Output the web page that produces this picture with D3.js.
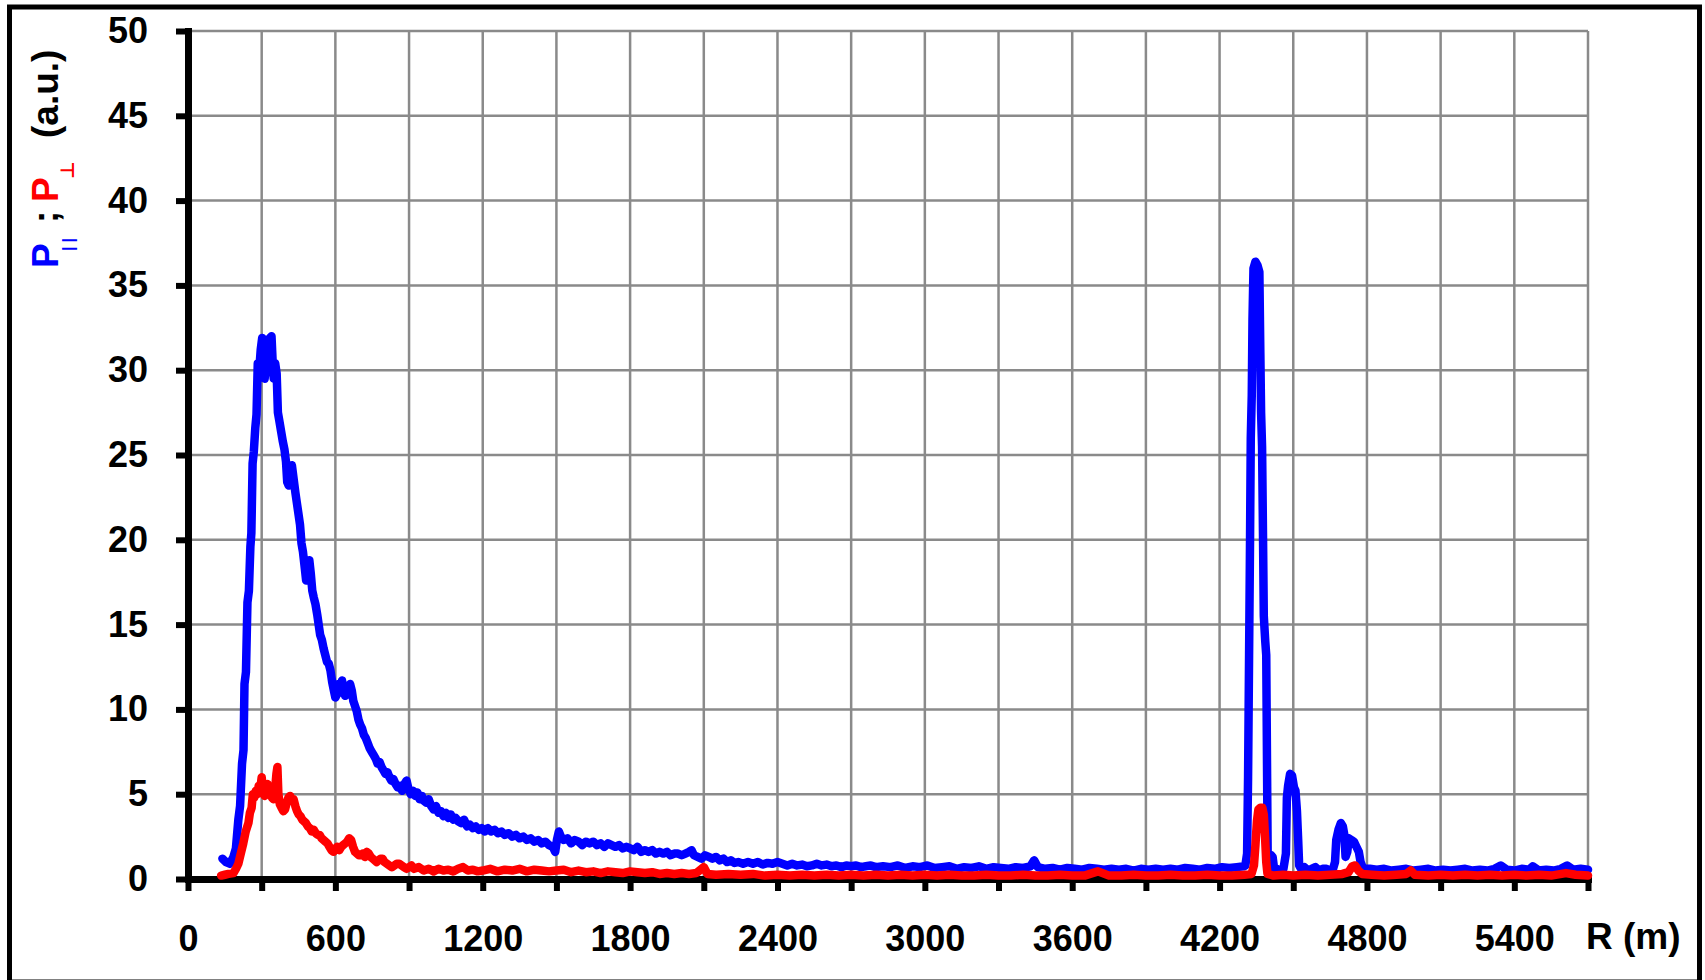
<!DOCTYPE html>
<html>
<head>
<meta charset="utf-8">
<script src="https://cdn.jsdelivr.net/npm/d3@7"></script>
<style>
  html, body { margin: 0; padding: 0; background: #fff; }
  svg { display: block; }
  text { font-family: "Liberation Sans", Arial, sans-serif; font-weight: bold; }
</style>
</head>
<body>
<svg id="chart" width="1705" height="980"></svg>
<script>
// Range axis ticks (m) and power axis ticks (a.u.)
const rangeTicks = d3.range(0, 5701, 300);
const rangeLabels = d3.range(0, 5401, 600);
const powerTicks = d3.range(0, 51, 5);

// Co-polarised return P∥ : range (m) and power (a.u.)
const rPar = [140,155,170,185,195,205,212,220,226,230,236,242,248,254,258,263,268,274,279,284,290,296,302,307,312,318,322,328,333,340,345,349,355,361,366,372,379,386,393,399,404,410,416,423,430,437,443,449,456,462,468,475,481,488,494,500,506,512,519,526,532,538,545,552,559,566,573,580,587,594,600,607,613,620,627,633,640,647,653,660,667,673,680,687,694,701,708,716,724,732,740,748,756,764,772,780,788,796,804,812,820,828,836,845,854,863,872,881,890,898,907,916,925,934,943,952,961,970,980,990,1000,1010,1020,1030,1040,1050,1060,1070,1080,1090,1100,1112,1124,1136,1148,1160,1172,1184,1196,1208,1220,1234,1248,1262,1276,1290,1305,1320,1335,1350,1365,1380,1395,1410,1425,1440,1455,1470,1485,1495,1502,1510,1518,1530,1545,1560,1575,1590,1605,1620,1635,1650,1665,1680,1695,1710,1725,1740,1755,1770,1785,1800,1815,1830,1845,1860,1875,1890,1905,1920,1935,1950,1965,1980,1995,2010,2025,2040,2050,2060,2075,2090,2105,2120,2135,2150,2165,2180,2195,2210,2225,2240,2260,2280,2300,2320,2340,2360,2380,2400,2420,2440,2460,2480,2500,2520,2540,2560,2580,2600,2620,2640,2660,2680,2700,2720,2740,2760,2780,2800,2830,2860,2890,2920,2950,2980,3010,3040,3070,3100,3130,3160,3190,3220,3250,3280,3310,3340,3370,3400,3430,3445,3460,3490,3520,3550,3580,3610,3640,3670,3700,3730,3760,3790,3820,3850,3880,3910,3940,3970,4000,4030,4060,4090,4120,4150,4180,4210,4240,4270,4300,4305,4312,4316,4320,4324,4327,4331,4334,4338,4346,4354,4362,4366,4369,4373,4377,4380,4386,4390,4393,4396,4402,4410,4416,4422,4432,4445,4460,4470,4474,4479,4487,4495,4503,4509,4515,4520,4524,4532,4545,4560,4575,4590,4605,4620,4635,4650,4662,4670,4675,4684,4694,4702,4708,4713,4720,4726,4737,4747,4757,4767,4774,4782,4797,4812,4840,4870,4900,4930,4960,4990,5020,5050,5080,5110,5140,5170,5200,5230,5260,5290,5320,5345,5370,5400,5430,5460,5475,5500,5530,5560,5590,5615,5640,5670,5700];
const pPar = [1.2,1.0,0.9,1.3,1.8,3.5,4.3,6.8,7.6,11.5,12.2,16.3,17.0,19.6,20.4,24.5,25.2,26.6,27.4,30.4,30.0,31.2,31.9,30.8,29.5,30.2,31.8,30.6,31.9,32.0,30.4,29.5,30.4,29.8,27.5,27.0,26.4,25.8,25.3,24.6,23.4,23.2,24.0,24.4,23.6,22.8,22.2,21.6,20.9,19.8,19.3,18.4,17.6,18.2,18.8,18.0,17.0,16.6,16.2,15.6,15.0,14.4,14.1,13.6,13.2,12.8,12.7,12.3,11.6,11.1,10.7,10.9,11.5,11.0,11.7,11.2,10.8,11.4,11.0,11.5,11.1,10.5,10.2,9.9,9.4,9.1,8.9,8.5,8.3,8.0,7.7,7.5,7.3,7.1,6.8,6.9,6.6,6.4,6.2,6.3,6.0,5.8,5.9,5.6,5.4,5.5,5.2,5.6,5.8,5.3,5.0,5.2,4.9,5.1,4.7,4.9,4.6,4.5,4.7,4.3,4.1,4.3,3.9,4.0,3.7,3.9,3.6,3.8,3.5,3.6,3.4,3.3,3.5,3.1,3.2,3.0,3.1,2.9,3.0,2.8,3.0,2.8,2.9,2.7,2.8,2.6,2.7,2.5,2.6,2.4,2.5,2.3,2.4,2.2,2.3,2.1,2.2,2.0,1.9,1.6,2.3,2.8,2.5,2.3,2.4,2.1,2.3,2.2,2.0,2.2,2.1,2.2,2.0,2.1,1.9,2.1,2.0,1.9,2.0,1.8,1.9,1.8,1.7,1.9,1.6,1.7,1.6,1.7,1.5,1.6,1.5,1.6,1.4,1.5,1.5,1.4,1.5,1.6,1.7,1.4,1.3,1.2,1.4,1.3,1.2,1.3,1.1,1.2,1.0,1.1,0.95,1.0,0.9,1.0,0.9,1.0,0.85,0.95,0.9,1.0,0.9,0.8,0.9,0.8,0.85,0.75,0.8,0.9,0.8,0.85,0.75,0.8,0.7,0.8,0.75,0.8,0.7,0.75,0.8,0.7,0.75,0.7,0.8,0.65,0.75,0.7,0.8,0.65,0.7,0.75,0.6,0.7,0.65,0.75,0.6,0.7,0.65,0.6,0.7,0.65,0.75,1.1,0.7,0.6,0.65,0.55,0.65,0.6,0.55,0.65,0.6,0.55,0.6,0.55,0.6,0.5,0.6,0.55,0.6,0.55,0.6,0.55,0.65,0.6,0.55,0.65,0.6,0.7,0.65,0.7,0.75,0.8,1.5,6.0,13.0,20.0,26.0,28.5,33.0,36.0,36.4,36.2,35.8,31.0,27.5,25.5,20.0,15.5,14.0,13.2,7.0,1.0,0.9,1.4,1.3,0.6,0.6,0.5,0.6,1.5,4.8,5.5,6.2,6.1,5.4,5.2,4.0,2.3,0.8,0.6,0.7,0.5,0.6,0.7,0.5,0.6,0.6,0.5,0.6,1.0,2.3,2.9,3.3,3.1,2.6,1.3,1.6,2.4,2.3,2.2,1.9,1.6,1.0,0.7,0.6,0.6,0.55,0.6,0.5,0.55,0.6,0.5,0.55,0.6,0.5,0.55,0.5,0.55,0.6,0.5,0.55,0.5,0.6,0.8,0.55,0.5,0.6,0.55,0.75,0.5,0.55,0.5,0.6,0.8,0.55,0.6,0.55];

// Cross-polarised return P⊥ : range (m) and power (a.u.)
const rPerp = [135,150,165,185,195,205,215,225,235,246,252,259,264,270,276,282,288,294,300,306,312,318,324,330,336,342,348,354,360,364,368,374,381,388,395,402,409,416,423,430,437,444,451,458,465,472,480,488,496,504,512,520,528,536,544,552,560,568,576,584,592,600,608,616,624,632,640,648,656,664,672,680,688,696,704,712,720,728,736,744,752,760,768,776,784,792,800,810,820,830,840,850,860,870,880,890,900,910,920,940,960,980,1000,1020,1040,1060,1080,1100,1120,1140,1160,1180,1200,1230,1260,1290,1320,1350,1380,1410,1440,1470,1500,1530,1560,1590,1620,1650,1680,1710,1740,1770,1800,1830,1860,1890,1920,1950,1980,2010,2040,2070,2100,2115,2150,2200,2250,2300,2350,2400,2450,2500,2550,2600,2650,2700,2750,2800,2850,2900,2950,3000,3050,3100,3150,3200,3250,3300,3350,3400,3450,3500,3550,3600,3650,3705,3750,3800,3850,3900,3950,4000,4050,4100,4150,4200,4250,4300,4330,4340,4346,4352,4358,4366,4374,4380,4385,4390,4395,4420,4460,4500,4550,4600,4650,4700,4725,4740,4752,4765,4780,4820,4870,4920,4960,4978,4995,5050,5100,5150,5200,5250,5300,5350,5400,5450,5500,5550,5610,5650,5700];
const pPerp = [0.2,0.25,0.3,0.35,0.6,0.9,1.5,2.1,2.8,3.3,3.9,4.2,5.0,4.8,5.2,5.0,5.5,5.3,6.0,5.2,4.9,5.3,5.6,5.0,5.2,4.8,4.7,5.2,6.2,6.6,5.0,4.4,4.2,4.0,4.1,4.5,4.8,4.9,4.6,4.7,4.3,4.0,3.8,3.7,3.5,3.4,3.3,3.1,3.0,2.8,2.9,2.7,2.6,2.6,2.4,2.3,2.2,2.1,1.9,1.7,1.6,1.8,1.9,1.7,1.9,2.0,2.1,2.2,2.4,2.3,1.9,1.6,1.5,1.4,1.4,1.5,1.3,1.6,1.5,1.3,1.2,1.1,1.0,1.1,1.2,1.2,1.0,0.9,0.8,0.7,0.8,0.9,0.9,0.8,0.7,0.6,0.7,0.8,0.6,0.7,0.5,0.6,0.45,0.6,0.5,0.55,0.45,0.6,0.7,0.5,0.55,0.45,0.5,0.6,0.45,0.55,0.5,0.6,0.45,0.55,0.5,0.45,0.5,0.55,0.4,0.5,0.4,0.45,0.35,0.45,0.4,0.35,0.45,0.4,0.35,0.4,0.3,0.35,0.3,0.35,0.3,0.35,0.7,0.3,0.25,0.3,0.25,0.3,0.2,0.25,0.2,0.25,0.2,0.25,0.2,0.25,0.2,0.25,0.2,0.25,0.2,0.25,0.2,0.25,0.2,0.2,0.25,0.2,0.2,0.25,0.2,0.2,0.25,0.2,0.2,0.45,0.2,0.2,0.25,0.2,0.2,0.25,0.2,0.2,0.25,0.2,0.2,0.25,0.3,0.8,2.0,3.4,4.1,4.2,4.2,3.8,2.5,1.0,0.3,0.2,0.25,0.2,0.25,0.2,0.25,0.3,0.4,0.75,0.8,0.5,0.3,0.25,0.2,0.25,0.3,0.5,0.25,0.2,0.25,0.2,0.25,0.2,0.25,0.2,0.25,0.2,0.25,0.2,0.35,0.25,0.2];

const svg = d3.select("#chart");
svg.append("rect").attr("width", 1705).attr("height", 980).attr("fill", "#fff");

// Outer frame of the figure
svg.append("rect")
  .attr("x", 9.5).attr("y", 7).attr("width", 1690).attr("height", 975)
  .attr("fill", "none").attr("stroke", "#000").attr("stroke-width", 5);

const x = d3.scaleLinear().domain([0, 5700]).range([188, 1588]);
const y = d3.scaleLinear().domain([0, 50]).range([879, 31]);

// Grid
const grid = svg.append("g");
grid.selectAll("line.v").data(rangeTicks.filter(d => d > 0)).join("line")
  .attr("x1", d => x(d)).attr("x2", d => x(d))
  .attr("y1", y(0)).attr("y2", y(50))
  .attr("stroke", "#8a8a8a").attr("stroke-width", 2.5);
grid.selectAll("line.h").data(powerTicks.filter(d => d > 0)).join("line")
  .attr("x1", x(0)).attr("x2", x(5700))
  .attr("y1", d => y(d)).attr("y2", d => y(d))
  .attr("stroke", "#8a8a8a").attr("stroke-width", 2.5);

// Axes
const yAxis = d3.axisLeft(y).tickValues(powerTicks).tickSize(12).tickSizeOuter(0)
  .tickPadding(28).tickFormat(d3.format("d"));
const gy = svg.append("g").attr("transform", `translate(${x(0)},0)`).call(yAxis);
gy.select(".domain").attr("stroke", "#000").attr("stroke-width", 7).attr("stroke-linecap", "square");
gy.selectAll(".tick line").attr("stroke", "#000").attr("stroke-width", 6);
gy.selectAll(".tick text").attr("fill", "#000").style("font-size", "36px")
  .style("font-family", "'Liberation Sans', Arial, sans-serif").style("font-weight", "bold");

const xAxis = d3.axisBottom(x).tickValues(rangeTicks).tickSize(12).tickSizeOuter(0)
  .tickPadding(34).tickFormat(d => rangeLabels.includes(d) ? d : "");
const gx = svg.append("g").attr("transform", `translate(0,${y(0)})`).call(xAxis);
gx.select(".domain").attr("stroke", "#000").attr("stroke-width", 7).attr("stroke-linecap", "square");
gx.selectAll(".tick line").attr("stroke", "#000").attr("stroke-width", 6);
gx.selectAll(".tick text").attr("fill", "#000").style("font-size", "36px")
  .style("font-family", "'Liberation Sans', Arial, sans-serif").style("font-weight", "bold");

// Series
const line = d3.line().x(d => x(d[0])).y(d => y(d[1]));
const parData = rPar.map((r, i) => [r, pPar[i]]);
const perpData = rPerp.map((r, i) => [r, pPerp[i]]);

svg.append("path").datum(parData).attr("d", line)
  .attr("fill", "none").attr("stroke", "#0000ff").attr("stroke-width", 8.5)
  .attr("stroke-linejoin", "round").attr("stroke-linecap", "round");
svg.append("path").datum(perpData).attr("d", line)
  .attr("fill", "none").attr("stroke", "#ff0000").attr("stroke-width", 8.5)
  .attr("stroke-linejoin", "round").attr("stroke-linecap", "round");

// Axis titles
svg.append("text").attr("x", 1586).attr("y", 949)
  .style("font-size", "37px").attr("fill", "#000").text("R (m)");

const yt = svg.append("text")
  .attr("transform", "translate(58,268) rotate(-90)")
  .style("font-size", "37px");
yt.append("tspan").attr("x", 0).attr("y", 0).attr("fill", "#0000ff").text("P");
yt.append("tspan").attr("x", 17).attr("y", 16).attr("fill", "#0000ff")
  .style("font-size", "16px").style("letter-spacing", "4px").text("||");
yt.append("tspan").attr("x", 45).attr("y", 0).attr("fill", "#000").text(";");
yt.append("tspan").attr("x", 66).attr("y", 0).attr("fill", "#ff0000").text("P");
yt.append("tspan").attr("x", 89).attr("y", 16).attr("fill", "#ff0000")
  .style("font-size", "19px").style("font-family", "'DejaVu Sans', sans-serif").text("⊥");
yt.append("tspan").attr("x", 130).attr("y", 0).attr("fill", "#000").text("(a.u.)");
</script>
</body>
</html>
